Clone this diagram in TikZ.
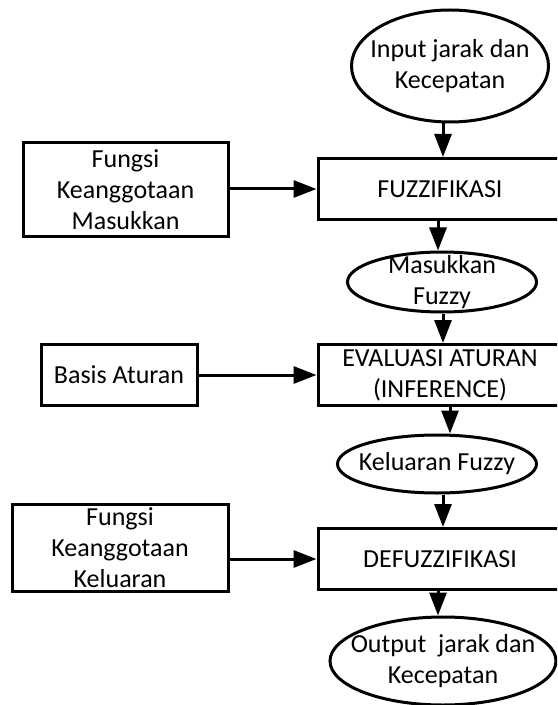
\documentclass[tikz,border=0pt]{standalone}
\usepackage{fontspec}
\setmainfont{Carlito}
\usetikzlibrary{shapes.geometric,arrows.meta,calc}
\begin{document}
\begin{tikzpicture}
			[x=0.5pt,y=-0.5pt,line width=1.5pt,
			proc/.style={rectangle,draw,line width=1.5pt,inner sep=0pt,minimum width=122pt,minimum height=30.5pt,align=center},
			io/.style={ellipse,draw,line width=1.5pt,inner sep=-25pt,align=center},
			src/.style={rectangle,draw,line width=1.5pt,inner sep=0pt,align=center},
			font=\fontsize{13}{15.5}\selectfont,>={Triangle[length=11.5pt,width=8.5pt]}]
			\clip(0,0)rectangle(557,705);
			\node[io,name=inp,minimum width=98.5pt,minimum height=56pt]at(450,66){Input jarak dan\\Kecepatan};
			\node[proc,name=fuzz]at(440,189){FUZZIFIKASI};
			\node[io,name=mf,minimum width=94.5pt,minimum height=30pt]at(442,282){Masukkan\\Fuzzy};
			\node[proc,name=eval]at(440,375){EVALUASI ATURAN\\(INFERENCE)};
			\node[io,name=kf,minimum width=99.5pt,minimum height=29pt]at(437,464){Keluaran Fuzzy};
			\node[proc,name=defuzz]at(440,559){DEFUZZIFIKASI};
			\node[io,name=outp,minimum width=113pt,minimum height=44pt]at(443,661){Output~~jarak dan\\Kecepatan};
			\node[src,name=fkm,minimum width=102.5pt,minimum height=47pt]at(125.5,190){Fungsi\\Keanggotaan\\Masukkan};
			\node[src,name=ba,minimum width=78pt,minimum height=30.5pt]at(119,374.5){Basis Aturan};
			\node[src,name=fkk,minimum width=108pt,minimum height=43.5pt]at(120,547.5){Fungsi\\Keanggotaan\\Keluaran};
			\draw[->]($(inp.south)+(-7,0)$)--($(fuzz.north)+(3,0)$);
			\draw[->]($(fuzz.south)+(-2,0)$)--($(mf.north)+(-4,0)$);
			\draw[->]($(mf.south)+(1,0)$)--($(eval.north)+(3,0)$);
			\draw[->]($(eval.south)+(10,0)$)--($(kf.north)+(13,0)$);
			\draw[->]($(kf.south)+(6,0)$)--($(defuzz.north)+(3,0)$);
			\draw[->]($(defuzz.south)+(-2,0)$)--($(outp.north)+(-5,0)$);
			\draw[->](fkm.east|-fuzz.west)--(fuzz.west);
			\draw[->](ba.east|-eval.west)--(eval.west);
			\draw[->](fkk.east|-defuzz.west)--(defuzz.west);
		\end{tikzpicture}
\end{document}
